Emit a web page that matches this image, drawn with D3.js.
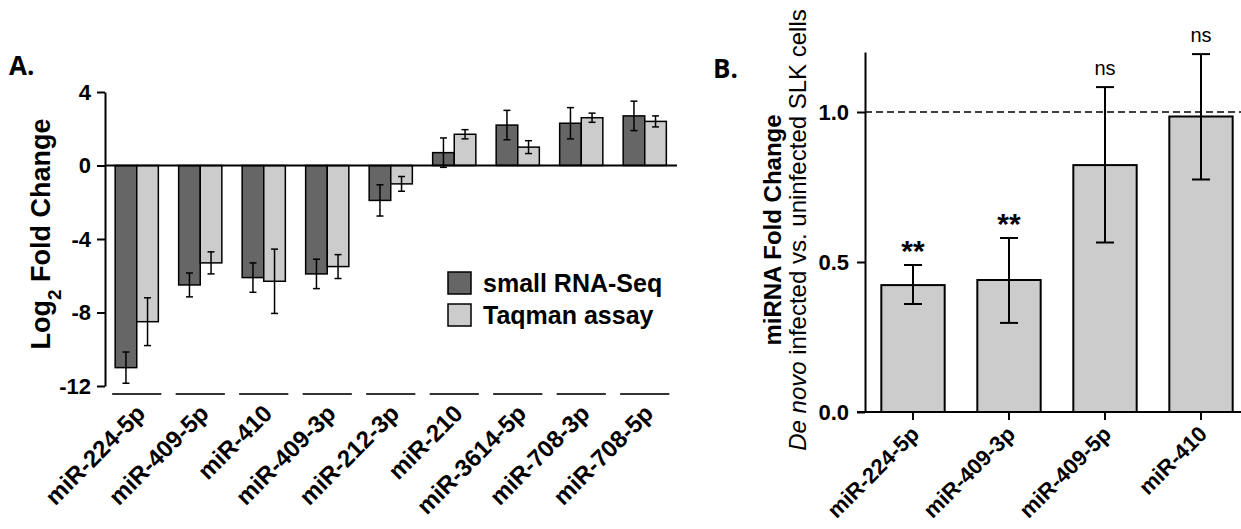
<!DOCTYPE html>
<html>
<head>
<meta charset="utf-8">
<script src="https://cdn.jsdelivr.net/npm/d3@7"></script>
<style>
    body { margin: 0; background: #fff; }
    svg { display: block; font-family: 'Liberation Sans', Arial, sans-serif; }
    .axis path, .axis line { stroke: #000; stroke-width: 2px; }
    .axis text { font-size: 22px; font-weight: bold; fill: #000; }
</style>
</head>
<body>
<svg id="chart"></svg>
<script>
// Panel A: log2 fold change, small RNA-Seq vs Taqman
const categoriesA = ['miR-224-5p', 'miR-409-5p', 'miR-410', 'miR-409-3p', 'miR-212-3p', 'miR-210', 'miR-3614-5p', 'miR-708-3p', 'miR-708-5p']
const seqValues = [-11.0, -6.5, -6.1, -5.9, -1.9, 0.7, 2.2, 2.3, 2.7]
const seqErrors = [0.85, 0.65, 0.8, 0.8, 0.85, 0.8, 0.8, 0.85, 0.8]
const taqValues = [-8.5, -5.3, -6.3, -5.5, -1.0, 1.7, 1.0, 2.6, 2.4]
const taqErrors = [1.3, 0.6, 1.75, 0.65, 0.4, 0.25, 0.35, 0.25, 0.3]
const ticksA = [4, 0, -4, -8, -12]
const seriesA = ['small RNA-Seq', 'Taqman assay']

// Panel B: fold change, de novo infected vs uninfected
const categoriesB = ['miR-224-5p', 'miR-409-3p', 'miR-409-5p', 'miR-410']
const valuesB = [0.423, 0.44, 0.823, 0.985]
const errLowB = [0.36, 0.297, 0.565, 0.775]
const errHighB = [0.49, 0.58, 1.083, 1.193]
const signifB = ['**', '**', 'ns', 'ns']
const ticksB = [0, 0.5, 1.0]

const W = 1241
const H = 529
const DARK = '#666666'
const LIGHT = '#cccccc'

const svg = d3.select('#chart').attr('width', W).attr('height', H)

// ---------- Panel A ----------
const yA = d3.scaleLinear().domain([-12, 4]).range([386, 92])
const xA = d3.scaleBand().domain(categoriesA).range([105, 676.5]).paddingInner(0.32).paddingOuter(0.16)
const subA = d3.scaleBand().domain([0, 1]).range([0, xA.bandwidth()])

svg.append('text')
    .attr('x', 9).attr('y', 75)
    .style('font-family', 'Open Sans, sans-serif')
    .style('font-size', '26px').style('font-weight', 'bold')
    .text('A.')

const gA = svg.append('g')

const seriesData = [
    { values: seqValues, errors: seqErrors, fill: DARK },
    { values: taqValues, errors: taqErrors, fill: LIGHT },
]

seriesData.forEach((s, si) => {
    const g = gA.append('g')
    const items = categoriesA.map((c, i) => ({ c, v: s.values[i], e: s.errors[i] }))
    g.selectAll('rect')
        .data(items)
        .join('rect')
        .attr('x', d => xA(d.c) + subA(si))
        .attr('width', subA.bandwidth())
        .attr('y', d => yA(Math.max(0, d.v)))
        .attr('height', d => Math.abs(yA(d.v) - yA(0)))
        .attr('fill', s.fill)
        .attr('stroke', '#000')
        .attr('stroke-width', 1.5)

    const eb = g.selectAll('g.err')
        .data(items)
        .join('g')
        .attr('class', 'err')
        .attr('stroke', '#000')
        .attr('stroke-width', 1.5)
    const cx = d => xA(d.c) + subA(si) + subA.bandwidth() / 2
    eb.append('line')
        .attr('x1', cx).attr('x2', cx)
        .attr('y1', d => yA(d.v + d.e)).attr('y2', d => yA(d.v - d.e))
    eb.append('line')
        .attr('x1', d => cx(d) - 3.5).attr('x2', d => cx(d) + 3.5)
        .attr('y1', d => yA(d.v + d.e)).attr('y2', d => yA(d.v + d.e))
    eb.append('line')
        .attr('x1', d => cx(d) - 3.5).attr('x2', d => cx(d) + 3.5)
        .attr('y1', d => yA(d.v - d.e)).attr('y2', d => yA(d.v - d.e))
})

// zero line
gA.append('line')
    .attr('x1', 105).attr('x2', 677)
    .attr('y1', yA(0)).attr('y2', yA(0))
    .attr('stroke', '#000').attr('stroke-width', 2)

// category underlines
gA.append('g').selectAll('line')
    .data(categoriesA)
    .join('line')
    .attr('x1', d => xA(d) - 3).attr('x2', d => xA(d) + xA.bandwidth() + 3)
    .attr('y1', 394).attr('y2', 394)
    .attr('stroke', '#333').attr('stroke-width', 2)

gA.append('g')
    .attr('class', 'axis')
    .attr('transform', 'translate(105,0)')
    .call(d3.axisLeft(yA).tickValues(ticksA).tickSize(8).tickSizeOuter(0).tickFormat(d => String(d)).tickPadding(6))

gA.append('g').selectAll('text')
    .data(categoriesA)
    .join('text')
    .attr('transform', d => `translate(${xA(d) + xA.bandwidth() / 2 + 4},${409}) rotate(-45)`)
    .attr('text-anchor', 'end')
    .attr('dy', '0.35em')
    .style('font-size', '24px').style('font-weight', 'bold')
    .text(d => d)

// y label A
const labA = svg.append('text')
    .attr('transform', `translate(50,${yA(-4) - 5}) rotate(-90)`)
    .attr('text-anchor', 'middle')
    .style('font-size', '27px').style('font-weight', 'bold')
labA.append('tspan').text('Log')
labA.append('tspan').attr('baseline-shift', 'sub').style('font-size', '19px').text('2')
labA.append('tspan').text(' Fold Change')

// legend
const legend = svg.append('g').attr('transform', 'translate(448,272)')
const legItems = legend.selectAll('g')
    .data(seriesA)
    .join('g')
    .attr('transform', (d, i) => `translate(0,${i * 32})`)
legItems.append('rect')
    .attr('width', 23).attr('height', 22)
    .attr('fill', (d, i) => i === 0 ? DARK : LIGHT)
    .attr('stroke', '#000').attr('stroke-width', 1.5)
legItems.append('text')
    .attr('x', 35).attr('y', 20)
    .style('font-size', '25px').style('font-weight', 'bold')
    .text(d => d)

// ---------- Panel B ----------
const yB = d3.scaleLinear().domain([0, 1.2]).range([412, 52])
const xB = d3.scaleBand().domain(categoriesB).range([865, 1249]).paddingInner(0.34).paddingOuter(0.17)

svg.append('text')
    .attr('x', 713).attr('y', 78)
    .style('font-family', 'Open Sans, sans-serif')
    .style('font-size', '26px').style('font-weight', 'bold')
    .text('B.')

const gB = svg.append('g')

gB.append('line')
    .attr('x1', 865).attr('x2', W)
    .attr('y1', yB(1)).attr('y2', yB(1))
    .attr('stroke', '#000').attr('stroke-width', 1.5)
    .attr('stroke-dasharray', '7,4')

const itemsB = categoriesB.map((c, i) => ({ c, v: valuesB[i], lo: errLowB[i], hi: errHighB[i], s: signifB[i] }))

gB.append('g').selectAll('rect')
    .data(itemsB)
    .join('rect')
    .attr('x', d => xB(d.c))
    .attr('width', xB.bandwidth())
    .attr('y', d => yB(d.v))
    .attr('height', d => yB(0) - yB(d.v))
    .attr('fill', LIGHT)
    .attr('stroke', '#000')
    .attr('stroke-width', 2)

const ebB = gB.append('g').selectAll('g')
    .data(itemsB)
    .join('g')
    .attr('stroke', '#000')
    .attr('stroke-width', 2)
const cxB = d => xB(d.c) + xB.bandwidth() / 2
ebB.append('line')
    .attr('x1', cxB).attr('x2', cxB)
    .attr('y1', d => yB(d.hi)).attr('y2', d => yB(d.lo))
ebB.append('line')
    .attr('x1', d => cxB(d) - 9).attr('x2', d => cxB(d) + 9)
    .attr('y1', d => yB(d.hi)).attr('y2', d => yB(d.hi))
ebB.append('line')
    .attr('x1', d => cxB(d) - 9).attr('x2', d => cxB(d) + 9)
    .attr('y1', d => yB(d.lo)).attr('y2', d => yB(d.lo))

gB.append('g').selectAll('text')
    .data(itemsB)
    .join('text')
    .attr('x', cxB)
    .attr('y', d => yB(d.hi) - (d.s === 'ns' ? 12 : 4))
    .attr('text-anchor', 'middle')
    .style('font-size', d => d.s === 'ns' ? '20px' : '30px')
    .style('font-weight', d => d.s === 'ns' ? 'normal' : 'bold')
    .text(d => d.s)

gB.append('g')
    .attr('class', 'axis')
    .attr('transform', 'translate(865,0)')
    .call(d3.axisLeft(yB).tickValues(ticksB).tickSize(8).tickSizeOuter(0).tickFormat(d3.format('.1f')).tickPadding(8))

const xAxisB = gB.append('g')
    .attr('class', 'axis')
    .attr('transform', `translate(0,${yB(0)})`)
    .call(d3.axisBottom(xB).tickSize(8).tickSizeOuter(0).tickFormat(''))
xAxisB.select('.domain').remove()
xAxisB.append('line')
    .attr('x1', 857).attr('x2', W)
    .attr('y1', 0).attr('y2', 0)
    .attr('stroke', '#000').attr('stroke-width', 2.5)

// labels slightly smaller so they fit above the bottom edge
gB.append('g').selectAll('text')
    .data(categoriesB)
    .join('text')
    .attr('transform', d => `translate(${xB(d) + xB.bandwidth() / 2 + 2},${430}) rotate(-45)`)
    .attr('text-anchor', 'end')
    .attr('dy', '0.35em')
    .style('font-size', '22px').style('font-weight', 'bold')
    .text(d => d)

// y label B (two lines)
const labB = svg.append('g').attr('transform', `translate(0,${230})`)
labB.append('text')
    .attr('transform', 'translate(781,0) rotate(-90)')
    .attr('text-anchor', 'middle')
    .style('font-size', '24px').style('font-weight', 'bold')
    .text('miRNA Fold Change')
const lab2 = labB.append('text')
    .attr('transform', 'translate(806,0) rotate(-90)')
    .attr('text-anchor', 'middle')
    .style('font-size', '24px')
lab2.append('tspan').style('font-style', 'italic').text('De novo')
lab2.append('tspan').text(' infected vs. uninfected SLK cells')
</script>
</body>
</html>
